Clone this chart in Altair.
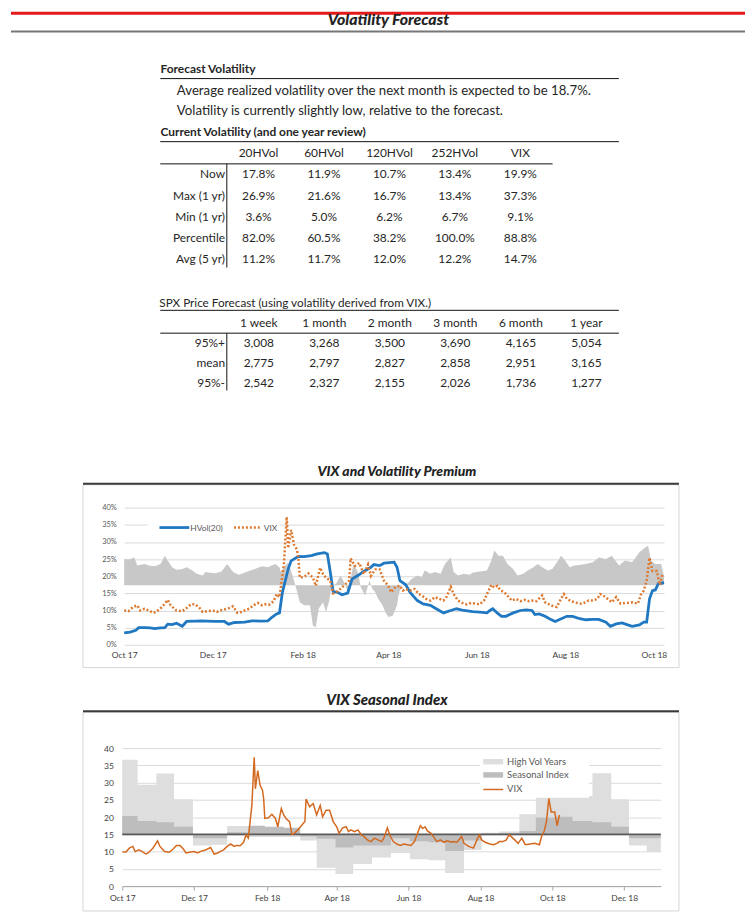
import altair as alt
import pandas as pd

# ---------------------------------------------------------------- text content
PAGE_TITLE = "Volatility Forecast"
FORECAST_HEADING = "Forecast Volatility"
FORECAST_LINES = [
    "Average realized volatility over the next month is expected to be 18.7%.",
    "Volatility is currently slightly low, relative to the forecast.",
]
CURRENT_HEADING = "Current Volatility (and one year review)"
VOL_COLUMNS = ["20HVol", "60HVol", "120HVol", "252HVol", "VIX"]
VOL_ROWS = ["Now", "Max (1 yr)", "Min (1 yr)", "Percentile", "Avg (5 yr)"]
VOL_VALUES = [
    [17.8, 11.9, 10.7, 13.4, 19.9],
    [26.9, 21.6, 16.7, 13.4, 37.3],
    [3.6, 5.0, 6.2, 6.7, 9.1],
    [82.0, 60.5, 38.2, 100.0, 88.8],
    [11.2, 11.7, 12.0, 12.2, 14.7],
]
SPX_HEADING = "SPX Price Forecast (using volatility derived from VIX.)"
SPX_COLUMNS = ["1 week", "1 month", "2 month", "3 month", "6 month", "1 year"]
SPX_ROWS = ["95%+", "mean", "95%-"]
SPX_VALUES = [
    [3008, 3268, 3500, 3690, 4165, 5054],
    [2775, 2797, 2827, 2858, 2951, 3165],
    [2542, 2327, 2155, 2026, 1736, 1277],
]
CHART1_TITLE = "VIX and Volatility Premium"
CHART2_TITLE = "VIX Seasonal Index"
LEGEND1 = ["HVol(20)", "VIX"]
LEGEND2 = ["High Vol Years", "Seasonal Index", "VIX"]

# ---------------------------------------------------------------- series data
HVOL_DATES = [
    "2017-10-01", "2017-10-05", "2017-10-09", "2017-10-11", "2017-10-15", "2017-10-19", "2017-10-22", "2017-10-26", "2017-10-29", "2017-10-31",
    "2017-11-03", "2017-11-06", "2017-11-10", "2017-11-13", "2017-11-19", "2017-11-23",
    "2017-12-02", "2017-12-09", "2017-12-12", "2017-12-16", "2017-12-23", "2017-12-28",
    "2018-01-03", "2018-01-08", "2018-01-11", "2018-01-14", "2018-01-16", "2018-01-18", "2018-01-22", "2018-01-24", "2018-01-29",
    "2018-02-02", "2018-02-07", "2018-02-11", "2018-02-16", "2018-02-18", "2018-02-20", "2018-02-22", "2018-02-25", "2018-02-28",
    "2018-03-04", "2018-03-07", "2018-03-11", "2018-03-15", "2018-03-20", "2018-03-22", "2018-03-26", "2018-03-29",
    "2018-04-05", "2018-04-07", "2018-04-09", "2018-04-13", "2018-04-16", "2018-04-21", "2018-04-25", "2018-04-30",
    "2018-05-04", "2018-05-09", "2018-05-14", "2018-05-18", "2018-05-23", "2018-05-29",
    "2018-06-03", "2018-06-08", "2018-06-10", "2018-06-12", "2018-06-15", "2018-06-18", "2018-06-21", "2018-06-26",
    "2018-07-01", "2018-07-05", "2018-07-09", "2018-07-11", "2018-07-14", "2018-07-18", "2018-07-21", "2018-07-25", "2018-07-28",
    "2018-08-02", "2018-08-06", "2018-08-11", "2018-08-15", "2018-08-20", "2018-08-24", "2018-08-29",
    "2018-09-01", "2018-09-05", "2018-09-09", "2018-09-13", "2018-09-16", "2018-09-21", "2018-09-24", "2018-09-26", "2018-09-28", "2018-09-30",
    "2018-10-02", "2018-10-04", "2018-10-08",
]
HVOL_VALUES = [
    3.5, 3.7, 4.2, 5.0, 5.0, 4.9, 4.7, 4.9, 5.0, 6.0,
    5.9, 6.3, 5.4, 6.8, 6.9, 7.0,
    6.8, 6.8, 6.0, 6.5, 6.6, 7.0,
    6.9, 7.0, 8.1, 9.0, 9.3, 15.3, 22.1, 24.5, 25.8,
    25.7, 26.0, 26.5, 26.9, 26.5, 21.2, 15.5, 15.3, 14.6,
    15.1, 19.2, 20.2, 21.4, 22.6, 23.4, 23.1, 23.8,
    24.1, 22.6, 18.7, 17.5, 15.3, 12.9, 11.9, 11.5,
    10.5, 9.3, 10.0, 10.5, 10.0, 9.7,
    9.5, 9.3, 10.0, 10.5, 9.3, 8.3, 8.3, 9.3,
    10.0, 10.2, 10.0, 8.8, 9.0, 8.3, 7.6, 6.8, 7.4,
    8.3, 8.3, 7.6, 7.3, 7.4, 7.4, 6.6,
    5.4, 6.1, 6.4, 5.8, 5.4, 5.8, 6.6, 6.6, 13.4, 15.8,
    16.0, 17.8, 18.1,
]
VIX_DATES = [
    "2017-10-01", "2017-10-04", "2017-10-07", "2017-10-10", "2017-10-12", "2017-10-15", "2017-10-18", "2017-10-21", "2017-10-23", "2017-10-27", "2017-10-29", "2017-10-31",
    "2017-11-02", "2017-11-06", "2017-11-10", "2017-11-13", "2017-11-16", "2017-11-19", "2017-11-22", "2017-11-24", "2017-11-27",
    "2017-12-01", "2017-12-04", "2017-12-06", "2017-12-09", "2017-12-12", "2017-12-15", "2017-12-18", "2017-12-21", "2017-12-23", "2017-12-26", "2017-12-29",
    "2018-01-01", "2018-01-04", "2018-01-06", "2018-01-09", "2018-01-12", "2018-01-14", "2018-01-16", "2018-01-19", "2018-01-21", "2018-01-22", "2018-01-24", "2018-01-26", "2018-01-28", "2018-01-29", "2018-01-30",
    "2018-02-02", "2018-02-05", "2018-02-08", "2018-02-10", "2018-02-13", "2018-02-15", "2018-02-17", "2018-02-20", "2018-02-22", "2018-02-24", "2018-02-27",
    "2018-03-02", "2018-03-05", "2018-03-06", "2018-03-09", "2018-03-12", "2018-03-15", "2018-03-18", "2018-03-20", "2018-03-23", "2018-03-26", "2018-03-29",
    "2018-04-01", "2018-04-03", "2018-04-06", "2018-04-09", "2018-04-11", "2018-04-13", "2018-04-16", "2018-04-19", "2018-04-22", "2018-04-24", "2018-04-27", "2018-04-30",
    "2018-05-03", "2018-05-06", "2018-05-09", "2018-05-11", "2018-05-14", "2018-05-16", "2018-05-19", "2018-05-22", "2018-05-25", "2018-05-28", "2018-05-31",
    "2018-06-03", "2018-06-06", "2018-06-08", "2018-06-11", "2018-06-13", "2018-06-15", "2018-06-17", "2018-06-20", "2018-06-23", "2018-06-25", "2018-06-28",
    "2018-07-01", "2018-07-04", "2018-07-07", "2018-07-09", "2018-07-12", "2018-07-16", "2018-07-18", "2018-07-22", "2018-07-26", "2018-07-29", "2018-07-31",
    "2018-08-02", "2018-08-05", "2018-08-09", "2018-08-12", "2018-08-15", "2018-08-17", "2018-08-20", "2018-08-23", "2018-08-25", "2018-08-27", "2018-08-30",
    "2018-09-02", "2018-09-05", "2018-09-08", "2018-09-12", "2018-09-16", "2018-09-20", "2018-09-22", "2018-09-24", "2018-09-26", "2018-09-28", "2018-09-30",
    "2018-10-03", "2018-10-05", "2018-10-07",
]
VIX_VALUES = [
    10.0, 9.8, 11.0, 11.5, 10.0, 10.5, 10.0, 9.3, 9.6, 11.0, 12.0, 13.1,
    11.5, 10.0, 9.8, 10.7, 11.8, 11.8, 10.7, 9.6, 9.8,
    10.0, 9.6, 10.0, 10.3, 10.7, 11.2, 9.3, 9.6, 10.0, 10.5, 11.5,
    12.2, 11.5, 11.8, 11.7, 12.7, 14.8, 13.9, 23.4, 37.3, 28.2, 33.5, 29.2, 27.8, 25.4, 19.6,
    19.8, 20.8, 19.6, 17.2, 22.5, 20.6, 19.6, 18.7, 15.0, 15.3, 16.3,
    17.5, 18.7, 25.2, 23.0, 23.9, 20.6, 23.4, 20.1, 22.0, 22.0, 18.7,
    17.2, 15.3, 16.9, 17.2, 15.8, 16.3, 15.8, 16.3, 14.8, 14.4, 13.4, 12.9,
    13.9, 13.4, 12.9, 13.9, 16.9, 14.8, 12.9, 12.2, 11.8, 12.2, 12.0,
    11.8, 12.9, 14.8, 17.5, 16.7, 17.2, 16.0, 15.3, 13.9, 12.9, 13.4,
    12.7, 13.1, 12.7, 12.9, 12.7, 14.4, 12.4, 11.5, 11.0, 13.4, 14.8,
    13.4, 12.7, 12.2, 12.0, 12.4, 12.9, 12.9, 13.4, 14.8, 14.4, 13.4,
    12.4, 13.9, 12.0, 12.2, 12.4, 12.0, 14.6, 15.8, 18.7, 25.4, 21.5,
    21.5, 17.5, 20.6,
]
PREM_DATES = [
    "2017-10-01", "2017-10-04", "2017-10-08", "2017-10-10", "2017-10-15", "2017-10-18", "2017-10-22", "2017-10-26", "2017-10-29", "2017-10-31",
    "2017-11-03", "2017-11-06", "2017-11-10", "2017-11-13", "2017-11-17", "2017-11-20", "2017-11-24", "2017-11-26", "2017-11-29",
    "2017-12-03", "2017-12-07", "2017-12-11", "2017-12-15", "2017-12-19", "2017-12-22", "2017-12-25", "2017-12-30",
    "2018-01-04", "2018-01-08", "2018-01-13", "2018-01-16", "2018-01-17", "2018-01-19", "2018-01-22", "2018-01-25", "2018-01-27", "2018-01-30",
    "2018-02-02", "2018-02-06", "2018-02-08", "2018-02-10", "2018-02-12", "2018-02-15", "2018-02-17", "2018-02-19", "2018-02-21", "2018-02-24", "2018-02-27",
    "2018-03-01", "2018-03-04", "2018-03-06", "2018-03-08", "2018-03-11", "2018-03-13", "2018-03-16", "2018-03-19", "2018-03-21", "2018-03-23", "2018-03-25", "2018-03-28", "2018-03-30",
    "2018-04-01", "2018-04-04", "2018-04-07", "2018-04-08", "2018-04-10", "2018-04-14", "2018-04-17", "2018-04-21", "2018-04-24", "2018-04-26", "2018-04-30",
    "2018-05-03", "2018-05-07", "2018-05-10", "2018-05-14", "2018-05-16", "2018-05-19", "2018-05-23", "2018-05-27", "2018-05-29",
    "2018-06-03", "2018-06-08", "2018-06-11", "2018-06-13", "2018-06-16", "2018-06-19", "2018-06-22", "2018-06-26", "2018-06-29",
    "2018-07-03", "2018-07-06", "2018-07-10", "2018-07-13", "2018-07-16", "2018-07-20", "2018-07-23", "2018-07-27", "2018-07-29", "2018-07-31",
    "2018-08-04", "2018-08-07", "2018-08-11", "2018-08-15", "2018-08-20", "2018-08-24", "2018-08-29",
    "2018-09-02", "2018-09-07", "2018-09-11", "2018-09-16", "2018-09-21", "2018-09-25", "2018-09-27", "2018-09-29",
    "2018-10-02", "2018-10-06", "2018-10-08",
]
PREM_VALUES = [
    25.0, 24.9, 25.5, 23.1, 23.6, 23.1, 22.9, 23.6, 26.0, 24.6,
    22.6, 21.9, 22.1, 22.6, 21.7, 20.7, 20.2, 21.2, 21.0,
    20.9, 21.4, 23.6, 21.2, 20.4, 20.9, 21.4, 22.1,
    22.9, 22.6, 23.6, 22.6, 21.2, 22.6, 24.0, 20.2, 17.3, 12.4,
    11.5, 11.5, 5.6, 5.1, 10.5, 12.4, 9.5, 12.4, 17.3, 17.8, 20.2,
    18.7, 15.6, 19.2, 23.6, 21.2, 16.8, 14.4, 18.7, 16.3, 15.3, 13.4, 11.5, 9.5,
    8.1, 8.5, 11.5, 14.4, 17.3, 17.8, 19.2, 20.2, 19.7, 21.7, 20.7,
    21.2, 20.7, 23.6, 25.5, 21.2, 20.2, 20.7, 20.4, 21.0,
    21.4, 21.7, 24.6, 27.5, 26.0, 26.0, 23.6, 22.1, 20.2,
    20.7, 21.7, 22.6, 23.6, 22.6, 21.7, 22.1, 24.6, 26.0, 25.0,
    22.6, 23.1, 23.3, 23.6, 24.1, 25.5, 25.0,
    26.0, 23.1, 24.6, 24.1, 27.0, 28.4, 28.9, 24.6,
    23.6, 23.6, 20.0,
]
PREM_BASE = 17.4

# half-month seasonal steps (start dates, last entry closes the final step)
SEAS_DATES = [
    "2017-10-01", "2017-10-14", "2017-10-30", "2017-11-14", "2017-11-30", "2017-12-16", "2017-12-29",
    "2018-01-16", "2018-01-30", "2018-02-15", "2018-03-01", "2018-03-15", "2018-03-31", "2018-04-15",
    "2018-05-01", "2018-05-17", "2018-06-02", "2018-06-18", "2018-07-02", "2018-07-18", "2018-08-02",
    "2018-08-17", "2018-09-03", "2018-09-17", "2018-10-03", "2018-10-18", "2018-11-04", "2018-11-20",
    "2018-12-05", "2018-12-20", "2019-01-01",
]
HIGHVOL_VALUES = [
    36.6, 29.4, 32.6, 25.2, 11.8, 12.0, 17.4,
    14.2, 14.2, 14.2, 13.2, 5.3, 3.5, 6.4,
    8.3, 9.6, 7.8, 7.5, 3.8, 10.5, 15.5,
    15.8, 20.8, 26.1, 26.1, 26.1, 32.7, 25.2,
    11.8, 9.9, 9.9,
]
SEASONAL_VALUES = [
    20.3, 18.9, 18.5, 17.2, 13.9, 13.9, 15.6,
    17.5, 17.2, 16.9, 14.4, 13.7, 11.2, 11.8,
    11.8, 13.9, 13.0, 12.7, 10.2, 13.2, 15.2,
    15.3, 16.0, 19.9, 20.1, 18.9, 18.5, 17.2,
    13.9, 13.9, 13.9,
]
SEAS_BASE = 15

# ---------------------------------------------------------------- styling
FONT = "Lato"
TXT = "#262626"
RED = "#e41a1a"
BLUE = "#1f78c1"
ORANGE = "#dd7a30"
VIX2 = "#d3691f"
PREM_GRAY = "#c8c8c8"
LIGHT = "#dedede"
DARK = "#bdbdbd"
GRID = "#dadada"
W = 739

dummy = pd.DataFrame({"k": [0]})


def txt(s, x, y, size, weight="normal", style="normal", align="left", color=TXT):
    return alt.Chart(dummy).mark_text(
        text=s, align=align, baseline="middle", font=FONT, fontSize=size,
        fontWeight=weight, fontStyle=style, color=color,
    ).encode(x=alt.value(x), y=alt.value(y))


def hline(x1, x2, y, color="#111111", width=1.0, dash=None):
    kw = dict(color=color, strokeWidth=width)
    if dash is not None:
        kw["strokeDash"] = dash
    return alt.Chart(dummy).mark_rule(**kw).encode(
        x=alt.value(x1), x2=alt.value(x2), y=alt.value(y))


def vline(x, y1, y2, color="#111111", width=1.0):
    return alt.Chart(dummy).mark_rule(color=color, strokeWidth=width).encode(
        x=alt.value(x), y=alt.value(y1), y2=alt.value(y2))


def rect(x1, x2, y1, y2, fill, opacity=1.0, stroke=None):
    kw = dict(fill=fill, fillOpacity=opacity)
    if stroke is not None:
        kw.update(stroke=stroke, strokeWidth=1)
    return alt.Chart(dummy).mark_rect(**kw).encode(
        x=alt.value(x1), x2=alt.value(x2), y=alt.value(y1), y2=alt.value(y2))


def spacer(w, h):
    return alt.Chart(dummy).mark_point(opacity=0).encode(
        x=alt.value(0), y=alt.value(0)).properties(width=w, height=h)


def dt(y, m, d):
    return alt.DateTime(year=y, month=m, date=d, utc=True)


# ---------------------------------------------------------------- header
header = alt.layer(
    hline(0, W, 1.2, RED, 3),
    txt(PAGE_TITLE, 380, 8.0, 16, 900, "italic", "center", "#222222"),
    hline(0, W, 19.5, "#777777", 2),
).properties(width=W, height=36)

# ---------------------------------------------------------------- forecast text
lines_df = pd.DataFrame({"i": list(range(len(FORECAST_LINES))), "line": FORECAST_LINES})
forecast = alt.layer(
    txt(FORECAST_HEADING, 150.5, 21.7, 12, "bold"),
    hline(150.3, 612, 31),
    alt.Chart(lines_df).mark_text(
        align="left", baseline="middle", font=FONT, fontSize=13.3, color=TXT
    ).encode(
        x=alt.value(167),
        y=alt.Y("i:O", scale=alt.Scale(type="point", domain=list(range(len(FORECAST_LINES))),
                                       range=[43.3, 63.3], padding=0), axis=None),
        text="line:N",
    ),
    txt(CURRENT_HEADING, 150.5, 85, 12, "bold"),
    hline(150.3, 612, 94.5),
).properties(width=W, height=97)


# ---------------------------------------------------------------- tables
def table(columns, rows, values, fmt, x_range, y_range, rule_x2, vrule_y2, height, extra):
    cells = pd.DataFrame([
        {"row": r, "col": c, "v": values[i][j]}
        for i, r in enumerate(rows) for j, c in enumerate(columns)
    ])
    xs = alt.Scale(type="point", domain=columns, range=x_range, padding=0)
    ys = alt.Scale(type="point", domain=["hdr"] + rows, range=y_range, padding=0)
    style = dict(baseline="middle", font=FONT, fontSize=12, color=TXT)
    head = alt.Chart(pd.DataFrame({"col": columns, "row": ["hdr"] * len(columns)})).mark_text(
        align="center", **style).encode(
        x=alt.X("col:N", scale=xs, axis=None), y=alt.Y("row:N", scale=ys, axis=None), text="col:N")
    body = alt.Chart(cells).transform_calculate(label=fmt).mark_text(
        align="center", **style).encode(
        x=alt.X("col:N", scale=xs, axis=None), y=alt.Y("row:N", scale=ys, axis=None), text="label:N")
    labels = alt.Chart(pd.DataFrame({"row": rows})).mark_text(align="right", **style).encode(
        x=alt.value(215.5), y=alt.Y("row:N", scale=ys, axis=None), text="row:N")
    hdr_rule_y = (y_range[0] + (y_range[1] - y_range[0]) / len(rows) / 2.0)
    return alt.layer(
        *extra,
        head, body, labels,
        hline(150.3, rule_x2, hdr_rule_y),
        vline(217.3, hdr_rule_y, vrule_y2),
    ).properties(width=W, height=height)


table1 = table(VOL_COLUMNS, VOL_ROWS, VOL_VALUES, "format(datum.v, '.1f') + '%'",
               [249.2, 512.8], [9.2, 115.7], 545.3, 124.2, 128, [])
table2 = table(SPX_COLUMNS, SPX_ROWS, SPX_VALUES, "format(datum.v, ',d')",
               [249.5, 579.3], [52.3, 112.3], 612, 120, 238,
               [txt(SPX_HEADING, 149.3, 31.7, 11.8), hline(150.3, 612, 39.3)])

# ---------------------------------------------------------------- chart 1
C1W, C1H = 543.5, 138
hv = pd.DataFrame({"date": HVOL_DATES, "v": HVOL_VALUES})
vx = pd.DataFrame({"date": VIX_DATES, "v": VIX_VALUES})
pr = pd.DataFrame({"date": PREM_DATES, "v": PREM_VALUES, "base": PREM_BASE})

x1s = alt.Scale(type="utc", domain=[dt(2017, 10, 1), dt(2018, 10, 8)])
x1a = alt.Axis(values=[dt(2017, 10, 1), dt(2017, 12, 1), dt(2018, 2, 1), dt(2018, 4, 1),
                       dt(2018, 6, 1), dt(2018, 8, 1), dt(2018, 10, 1)],
               format="%b %y", labelFlush=False, labelOverlap=False, grid=False, ticks=False,
               domain=False, labelFontSize=8.5, labelColor="#404040", labelFont=FONT,
               labelPadding=6, title=None)
y1s = alt.Scale(domain=[0, 40], nice=False, zero=True)
y1a = alt.Axis(values=list(range(0, 45, 5)), labelExpr="datum.value + '%'", grid=True,
               gridColor=GRID, ticks=False, domain=False, labelFontSize=7.5,
               labelColor="#595959", labelFont=FONT, labelPadding=8, title=None)


def enc1(chart, y="v:Q", **kw):
    return chart.encode(x=alt.X("date:T", scale=x1s, axis=x1a),
                        y=alt.Y(y, scale=y1s, axis=y1a), **kw)


chart1 = alt.layer(
    rect(-41.5, 558.5, -23, 161, "white", 0, "#d6d6d6"),
    txt(CHART1_TITLE, 274.5, -36, 14, 900, "italic", "center", "#222222"),
    hline(-41.5, 558.5, -24, "#3a3a3a", 2),
    enc1(alt.Chart(pr).mark_area(color=PREM_GRAY), y2="base:Q"),
    enc1(alt.Chart(hv).mark_line(color=BLUE, strokeWidth=2.8)),
    enc1(alt.Chart(vx).mark_line(color=ORANGE, strokeWidth=2.5, strokeDash=[2, 2])),
    rect(23.5, 156.5, 10, 27, "white"),
    hline(35.5, 65.5, 20, BLUE, 2.8),
    txt(LEGEND1[0], 66.5, 20, 8.5, color="#595959"),
    hline(110.5, 138.5, 20, ORANGE, 2.5, [2, 2]),
    txt(LEGEND1[1], 140.5, 20, 8.5, color="#595959"),
).properties(width=C1W, height=C1H)

# ---------------------------------------------------------------- chart 2
C2W, C2H = 542.2, 139
se = pd.DataFrame({"date": SEAS_DATES, "hv": HIGHVOL_VALUES, "si": SEASONAL_VALUES, "base": SEAS_BASE})
base_df = pd.DataFrame({"b": [SEAS_BASE]})

x2s = alt.Scale(type="utc", domain=[dt(2017, 10, 1), dt(2019, 1, 1)])
x2a = alt.Axis(values=[dt(2017, 10, 1), dt(2017, 12, 1), dt(2018, 2, 1), dt(2018, 4, 1),
                       dt(2018, 6, 1), dt(2018, 8, 1), dt(2018, 10, 1), dt(2018, 12, 1)],
               format="%b %y", labelFlush=False, labelOverlap=False, grid=False, ticks=True,
               tickSize=4, tickColor="#a6a6a6", domain=True, domainColor="#a6a6a6",
               labelFontSize=8.5, labelColor="#404040", labelFont=FONT, labelPadding=3, title=None)
y2s = alt.Scale(domain=[0, 40], nice=False, zero=True)
y2a = alt.Axis(values=list(range(0, 45, 5)), grid=True, gridColor=GRID, ticks=False,
               domain=False, labelFontSize=8.5, labelColor="#404040", labelFont=FONT,
               labelPadding=9, title=None)


def enc2(chart, y="v:Q", **kw):
    return chart.encode(x=alt.X("date:T", scale=x2s, axis=x2a),
                        y=alt.Y(y, scale=y2s, axis=y2a), **kw)


chart2 = alt.layer(
    rect(-39.5, 560.5, -36, 164, "white", 0, "#d6d6d6"),
    txt(CHART2_TITLE, 266.5, -48, 15, 900, "italic", "center", "#222222"),
    hline(-39.5, 560.5, -37, "#3a3a3a", 2),
    enc2(alt.Chart(se).mark_area(color=LIGHT, interpolate="step-after"), y="hv:Q", y2="base:Q"),
    enc2(alt.Chart(se).mark_area(color=DARK, interpolate="step-after"), y="si:Q", y2="base:Q"),
    alt.Chart(base_df).mark_rule(color="#5a5a5a", strokeWidth=1.6).encode(
        y=alt.Y("b:Q", scale=y2s, axis=y2a)),
    enc2(alt.Chart(vx).mark_line(color=VIX2, strokeWidth=1.5)),
    rect(360, 470, 6, 50, "white"),
    rect(363.5, 383.5, 11, 16.5, LIGHT),
    txt(LEGEND2[0], 387.5, 13.7, 9.5, color="#595959"),
    rect(363.5, 383.5, 24.3, 29.8, DARK),
    txt(LEGEND2[1], 387.5, 27, 9.5, color="#595959"),
    hline(363.5, 383.5, 41.7, VIX2, 1.5),
    txt(LEGEND2[2], 387.5, 41.7, 9.5, color="#595959"),
).properties(width=C2W, height=C2H)

# ---------------------------------------------------------------- page
# (nested concat rows take no height in a flush layout, so the gap row below
#  carries chart 1's height as well as the space between the two charts)
page = alt.vconcat(
    header,
    forecast,
    table1,
    table2,
    alt.hconcat(spacer(113.5, C1H), chart1, spacing=0, bounds="flush"),
    spacer(10, C1H + 104),
    alt.hconcat(spacer(111.5, C2H), chart2, spacing=0, bounds="flush"),
    spacing=0,
    bounds="flush",
).properties(padding=0, background="white").configure_view(strokeWidth=0)

page.save("out.html", embed_options={"renderer": "svg", "actions": False})
